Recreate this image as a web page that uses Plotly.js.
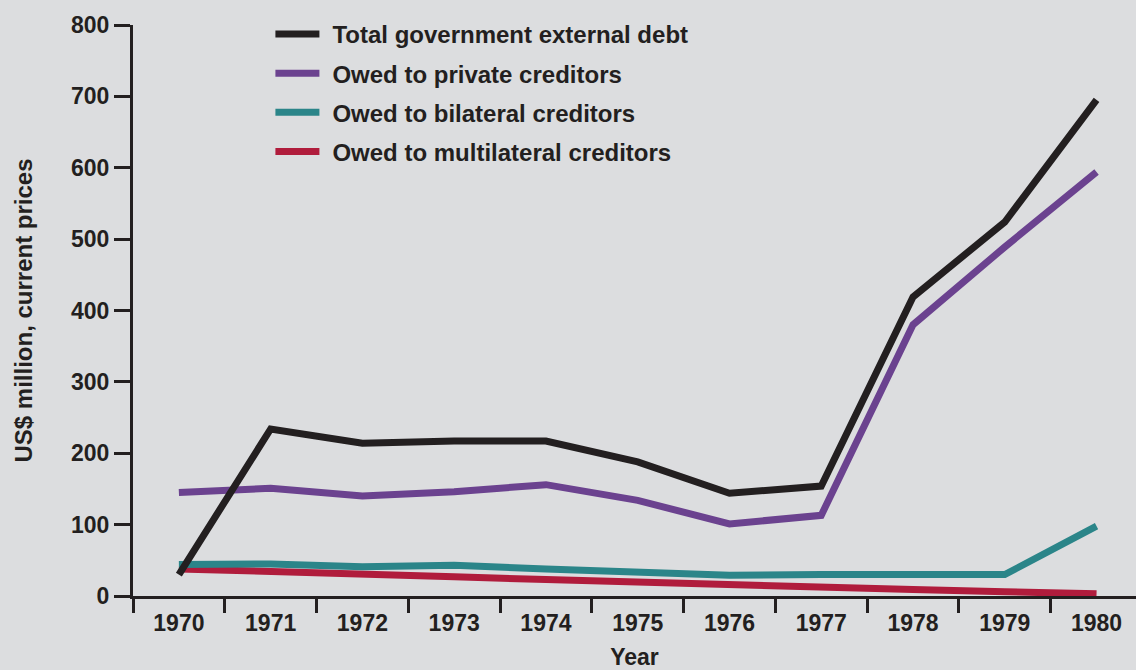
<!DOCTYPE html>
<html>
<head>
<meta charset="utf-8">
<script src="https://cdn.plot.ly/plotly-3.0.1.min.js"></script>
<style>html,body{margin:0;padding:0;background:#dcdddf;}#chart{width:1136px;height:670px;}
#chart g.legend text.legendtext{transform:translateX(8px);}
#chart g.legend g.scrollbox{clip-path:none !important;}
</style>
</head>
<body>
<div id="chart"></div>
<script>
const years = ['1970','1971','1972','1973','1974','1975','1976','1977','1978','1979','1980'];
const totalDebt = [30, 234, 214, 217, 217, 188, 144, 154, 419, 524, 695];
const privateCreditors = [145, 151, 140, 146, 156, 134, 101, 113, 380, 489, 594];
const bilateralCreditors = [44, 45, 41, 43, 38, 34, 29, 30, 30, 30, 98];
const multilateralCreditors = [38, 35, 31, 27, 23, 19, 15, 12, 9, 6, 3];
const seriesNames = ['Total government external debt','Owed to private creditors','Owed to bilateral creditors','Owed to multilateral creditors'];
const seriesColors = ['#231f20','#6b428f','#2b8589','#b01c3c'];

const FONT = 'Liberation Sans, Arial, sans-serif';
const ink = '#231f20';
const series = [totalDebt, privateCreditors, bilateralCreditors, multilateralCreditors];
const drawOrder = [3, 2, 1, 0];
const traces = drawOrder.map(i => ({
  type: 'scatter', mode: 'lines', x: years, y: series[i], name: seriesNames[i],
  line: {color: seriesColors[i], width: 7},
  legendrank: i + 1, legendgroup: 'g' + i
}));

const layout = {
  width: 1136, height: 670,
  margin: {l: 133, r: 0, t: 25, b: 74},
  paper_bgcolor: '#dcdddf', plot_bgcolor: '#dcdddf',
  font: {family: FONT, color: ink, size: 23, weight: 'bold'},
  showlegend: true,
  legend: {x: 0.137, y: 1.023, xanchor: 'left', yanchor: 'top', bgcolor: 'rgba(0,0,0,0)',
           font: {family: FONT, size: 24, color: ink, weight: 'bold'}, tracegroupgap: 5,
           traceorder: 'grouped', itemwidth: 44},
  xaxis: {type: 'category', range: [-0.5, 10.43], showgrid: false, zeroline: false,
          showline: true, linecolor: ink, linewidth: 3,
          ticks: 'outside', tickson: 'boundaries', ticklen: 14, tickwidth: 3, tickcolor: ink,
          ticklabelstandoff: 4,
          tickfont: {family: FONT, size: 23, color: ink, weight: 'bold'},
          title: {text: 'Year', font: {family: FONT, size: 23, color: ink, weight: 'bold'}, standoff: 21}},
  yaxis: {range: [0, 800], dtick: 100, showgrid: false, zeroline: false,
          showline: true, linecolor: ink, linewidth: 3,
          ticks: 'outside', ticklen: 16, tickwidth: 3, tickcolor: ink,
          tickfont: {family: FONT, size: 23, color: ink, weight: 'bold'},
          title: {text: 'US$ million, current prices', font: {family: FONT, size: 24, color: ink, weight: 'bold'}, standoff: 32}}
};

Plotly.newPlot('chart', traces, layout, {displayModeBar: false, staticPlot: true});
</script>
</body>
</html>
